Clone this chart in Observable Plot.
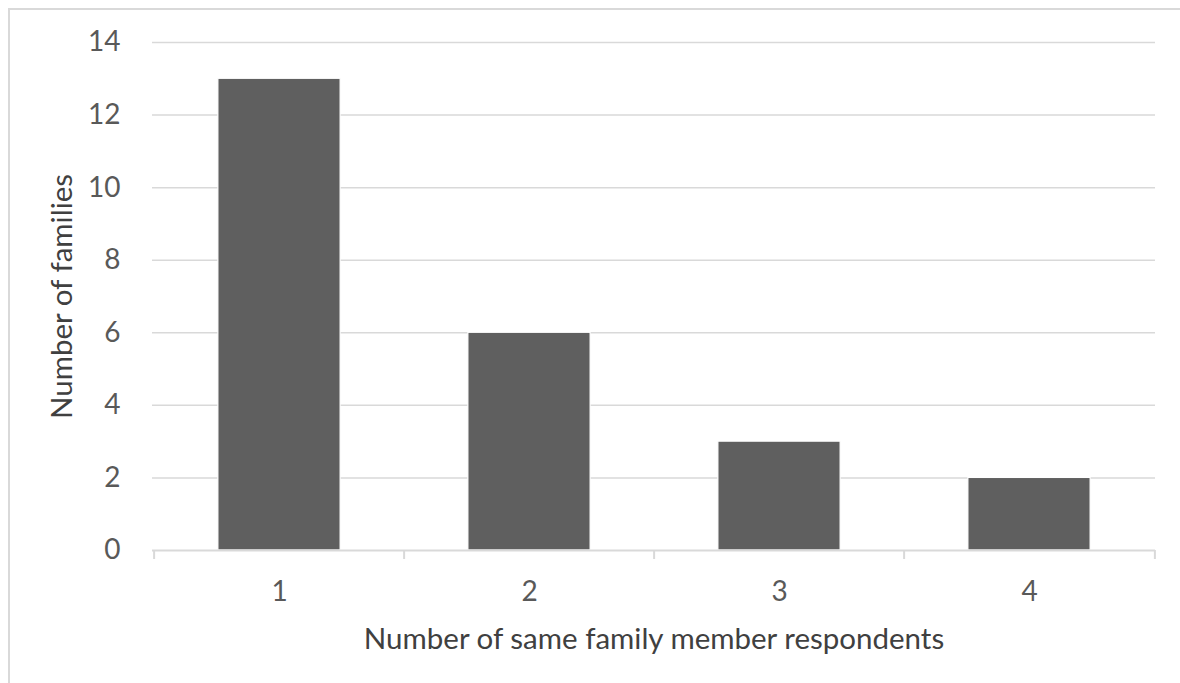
<!DOCTYPE html>
<html>
<head>
<meta charset="utf-8">
<script src="https://cdn.jsdelivr.net/npm/d3@7"></script>
<script src="https://cdn.jsdelivr.net/npm/@observablehq/plot@0.6"></script>
<style>
  html, body { margin: 0; padding: 0; background: #fff; overflow: hidden; }
  #wrap { position: relative; width: 1180px; height: 683px; }
  #border { position: absolute; left: 8px; top: 8px; width: 1200px; height: 700px; border: 2px solid #d9d9d9; box-sizing: border-box; }
  #chart { position: absolute; left: 0; top: 0; }
</style>
</head>
<body>
<div id="wrap"><div id="border"></div><div id="chart"></div></div>
<script>
const categories = ["1", "2", "3", "4"];
const families = [13, 6, 3, 2];
const yTicks = [0, 2, 4, 6, 8, 10, 12, 14];
const xTitle = "Number of same family member respondents";
const yTitle = "Number of families";

const data = categories.map((c, i) => ({category: c, value: families[i]}));

const W = 1180, H = 683, mL = 152, mR = 25, mT = 42, mB = 133;
const step = (W - mL - mR) / categories.length;
const barW = 123;
const font = "Lato, 'Open Sans', sans-serif";

const chart = Plot.plot({
  width: W, height: H,
  marginLeft: mL, marginRight: mR, marginTop: mT, marginBottom: mB,
  style: {fontFamily: font, background: "transparent", overflow: "visible"},
  x: {domain: categories, padding: 0},
  y: {domain: [0, 14]},
  marks: [
    Plot.ruleY(yTicks.filter(d => d > 0), {stroke: "#d9d9d9", strokeWidth: 1.5}),
    Plot.barY(data, {x: "category", y: "value", fill: "#5f5f5f", stroke: "white", strokeWidth: 1.2,
      insetLeft: (step - barW) / 2, insetRight: (step - barW) / 2}),
    Plot.ruleY([0], {stroke: "#d9d9d9", strokeWidth: 2}),
    Plot.axisY({ticks: yTicks, tickSize: 0, tickPadding: 32, fontSize: 28, color: "#595959", label: null}),
    Plot.axisX({tickSize: 0, tickPadding: 31, fontSize: 28, color: "#595959", label: null}),
    Plot.axisX({tickSize: 9, text: null, dx: -step / 2, stroke: "#d9d9d9", strokeWidth: 2, label: null}),
    Plot.axisX({ticks: [categories[categories.length - 1]], tickSize: 9, text: null, dx: step / 2, stroke: "#d9d9d9", strokeWidth: 2, label: null}),
    Plot.text([xTitle], {frameAnchor: "bottom", dy: 89, fontSize: 29.5, fill: "#404040", text: d => d, textAnchor: "middle", lineAnchor: "middle"}),
    Plot.text([yTitle], {frameAnchor: "left", dx: -90, rotate: -90, fontSize: 29.5, fill: "#404040", text: d => d, textAnchor: "middle", lineAnchor: "middle"})
  ]
});
document.getElementById("chart").appendChild(chart);
</script>
</body>
</html>
